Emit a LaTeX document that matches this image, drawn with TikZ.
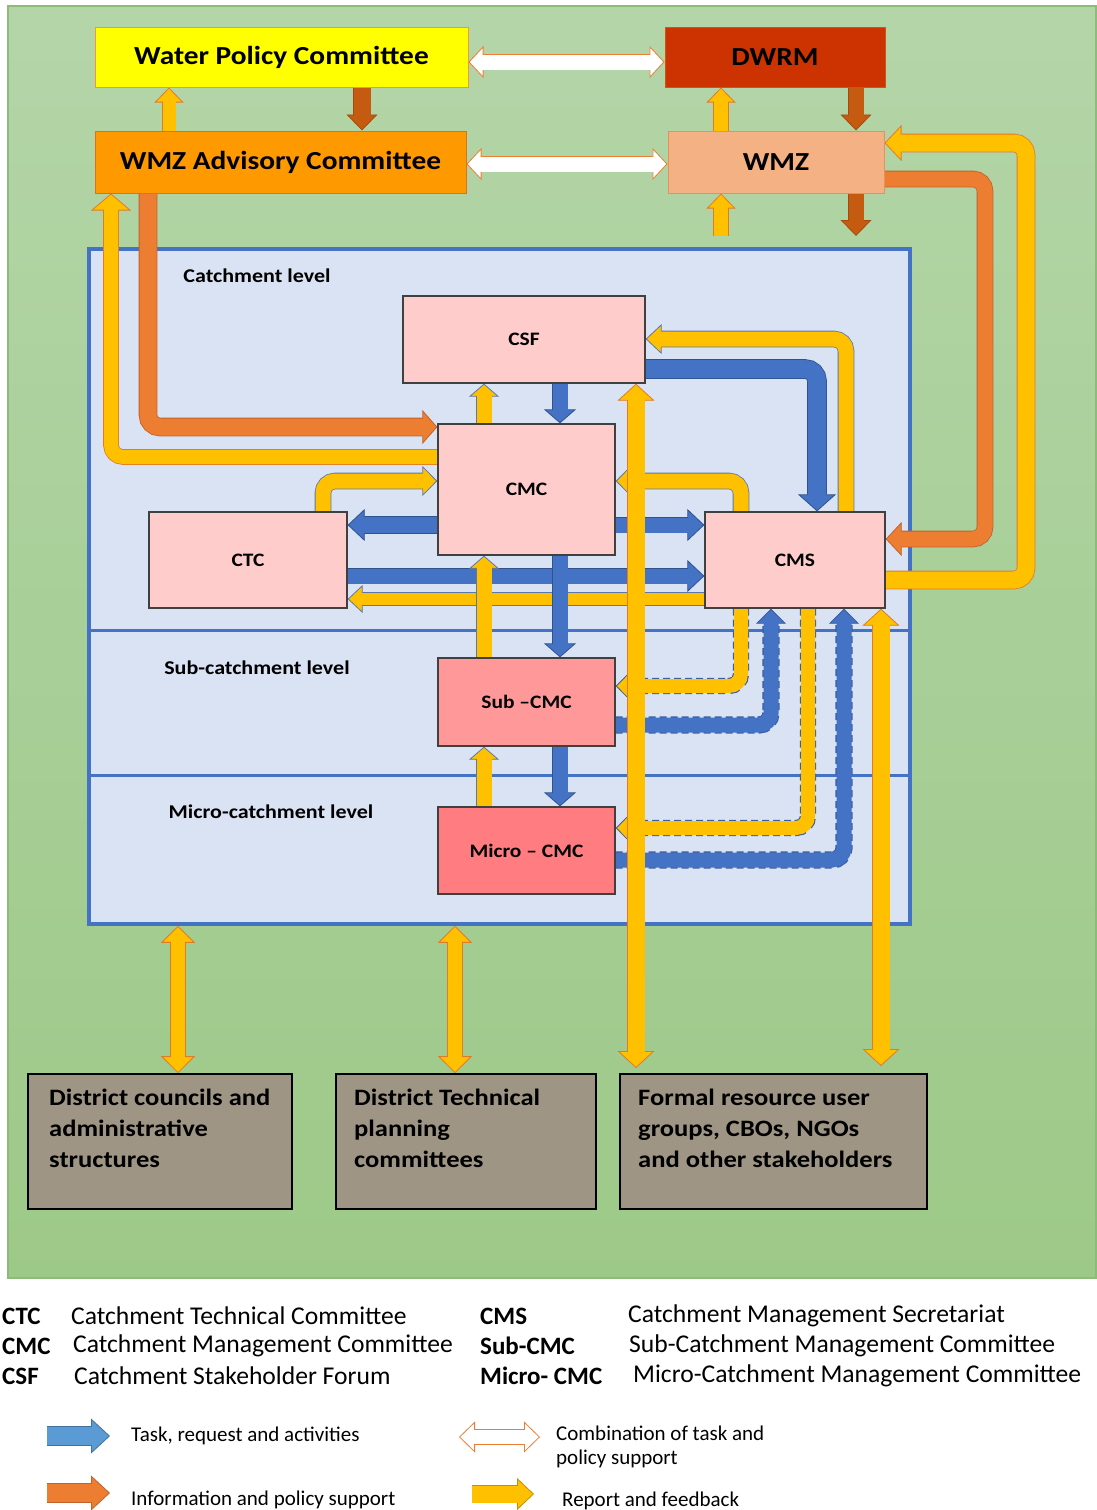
\documentclass[tikz,border=0pt]{standalone}
\usepackage{fontspec}
\setmainfont{Carlito}
\newfontfamily\boxfont{Carlito}[FakeStretch=1.13]
\usetikzlibrary{arrows.meta}
\pgfdeclarelayer{bg}\pgfdeclarelayer{arr}\pgfsetlayers{bg,arr,main}
\definecolor{bgtop}{HTML}{B4D5A8}
\definecolor{bgbot}{HTML}{9DC988}
\definecolor{bgline}{HTML}{8DBB7A}
\definecolor{regfill}{HTML}{DAE3F3}
\definecolor{regbd}{HTML}{4472C4}
\definecolor{ylw}{HTML}{FFC000}
\definecolor{ylwbd}{HTML}{E07B28}
\definecolor{ylwbb}{HTML}{5A78B0}
\definecolor{blu}{HTML}{4472C4}
\definecolor{blubd}{HTML}{2F528F}
\definecolor{dshbd}{HTML}{3B5E9E}
\definecolor{org}{HTML}{ED7D31}
\definecolor{orgbd}{HTML}{C0622A}
\definecolor{dorg}{HTML}{C55A11}
\definecolor{dorgbd}{HTML}{A8490C}
\definecolor{pinkc}{HTML}{FFCCCC}
\definecolor{subc}{HTML}{FF9999}
\definecolor{micc}{HTML}{FF7C80}
\definecolor{wpcc}{HTML}{FFFF00}
\definecolor{wpcbd}{HTML}{EE9A3A}
\definecolor{dwrmc}{HTML}{CC3300}
\definecolor{wacc}{HTML}{FF9900}
\definecolor{wacbd}{HTML}{E07020}
\definecolor{wmzc}{HTML}{F4B183}
\definecolor{wmzbd}{HTML}{E8905A}
\definecolor{grayb}{HTML}{9F9585}
\definecolor{boxbd}{HTML}{404040}
\definecolor{lgblue}{HTML}{5B9BD5}
\definecolor{lgbluebd}{HTML}{41719C}
\definecolor{lgylwbd}{HTML}{BF9000}
% block arrow: fill, border, shaft width, head width, head length, path
\newcommand\bkarrow[6]{%
  \pgfmathsetmacro\arrbw{#3+1.6}\pgfmathsetmacro\arrsh{#5-3}%
  \draw[#2, line width=\arrbw pt, rounded corners=12pt, -{Triangle[width=#4pt, length=#5pt, fill=#1, line width=0.8pt]}] #6;
  \draw[#1, line width=#3pt, rounded corners=12pt, shorten >=\arrsh pt] #6;}
\newcommand\bkdarrow[6]{%
  \pgfmathsetmacro\arrbw{#3+1.6}\pgfmathsetmacro\arrsh{#5-3}%
  \draw[#2, line width=\arrbw pt, {Triangle[width=#4pt, length=#5pt, fill=#1, line width=0.8pt]}-{Triangle[width=#4pt, length=#5pt, fill=#1, line width=0.8pt]}] #6;
  \draw[#1, line width=#3pt, shorten >=\arrsh pt, shorten <=\arrsh pt] #6;}
\newcommand\bkdash[6]{%
  \pgfmathsetmacro\arrbw{#3+2.2}\pgfmathsetmacro\arrsh{#5-3}%
  \draw[#2, line width=\arrbw pt, rounded corners=12pt, dash pattern=on 7pt off 4pt, -{Triangle[width=#4pt, length=#5pt, fill=#1, line width=0.8pt]}] #6;
  \draw[#1, line width=#3pt, rounded corners=12pt, shorten >=\arrsh pt] #6;}
\begin{document}
\begin{tikzpicture}[x=1pt,y=-1pt,
  box/.style={draw, line width=1pt, inner sep=0pt, align=center, font=\boxfont\bfseries\fontsize{26}{30}\selectfont},
  ibox/.style={draw=boxbd, line width=1.3pt, inner sep=0pt, fill=pinkc, font=\boxfont\bfseries\fontsize{19}{22}\selectfont},
  bbox/.style={draw=black, line width=1.6pt, fill=grayb, inner sep=0pt},
  btext/.style={anchor=north west, align=left, inner sep=0pt, font=\boxfont\bfseries\fontsize{23.5}{31}\selectfont},
  lvl/.style={inner sep=0pt, font=\boxfont\bfseries\fontsize{19.5}{22}\selectfont},
  abbr/.style={anchor=west, inner sep=0pt, font=\bfseries\fontsize{25}{28}\selectfont},
  lgt/.style={anchor=west, inner sep=0pt, font=\fontsize{25.6}{28}\selectfont},
  lgs/.style={anchor=west, inner sep=0pt, font=\fontsize{21}{24}\selectfont},
]
\useasboundingbox (0,0) rectangle (1096,1510);
\begin{pgfonlayer}{bg}
\fill[white] (0,0) rectangle (1096,1510);
\shade[top color=bgtop, bottom color=bgbot] (8,6) rectangle (1096,1278);
\draw[bgline, line width=1.2pt] (8,6) rectangle (1096,1278);
\node[draw=regbd, fill=regfill, line width=3.5pt, minimum width=821pt, minimum height=675pt, inner sep=0pt] (catch) at (499.5,586.5) {};
\draw[regbd, line width=3pt] (catch.west |- 0,630) -- (catch.east |- 0,630);
\draw[regbd, line width=3pt] (catch.west |- 0,775) -- (catch.east |- 0,775);
\node[lvl] (lc) at (257,276) {Catchment level};
\node[lvl] (ls) at (257,668) {Sub-catchment level};
\node[lvl] (lm) at (271,812) {Micro-catchment level};
\end{pgfonlayer}

% boxes
\node[box, fill=wpcc, draw=wpcbd, minimum width=373pt, minimum height=60pt] (wpc) at (281.5,57) {Water Policy Committee};
\node[box, fill=dwrmc, draw=dorg, minimum width=220pt, minimum height=60pt] (dwrm) at (775,57) {DWRM};
\node[box, fill=wacc, draw=wacbd, minimum width=371pt, minimum height=62pt] (wac) at (280.5,162) {WMZ Advisory Committee};
\node[box, fill=wmzc, draw=wmzbd, minimum width=216pt, minimum height=62pt] (wmz) at (776,162) {WMZ};

\node[ibox, minimum width=242pt, minimum height=87pt] (csf) at (524,339.5) {CSF};
\node[ibox, minimum width=177pt, minimum height=131pt] (cmc) at (526.5,489.5) {CMC};
\node[ibox, minimum width=198pt, minimum height=96pt] (ctc) at (248,560) {CTC};
\node[ibox, minimum width=180pt, minimum height=96pt] (cms) at (795,560) {CMS};
\node[ibox, fill=subc, minimum width=177pt, minimum height=88pt] (sub) at (526.5,702) {Sub –CMC};
\node[ibox, fill=micc, minimum width=177pt, minimum height=87pt] (micro) at (526.5,850.5) {Micro – CMC};

\node[bbox, minimum width=264pt, minimum height=135pt] (dc) at (160,1141.5) {};
\node[bbox, minimum width=260pt, minimum height=135pt] (dt) at (466,1141.5) {};
\node[bbox, minimum width=307pt, minimum height=135pt] (fr) at (773.5,1141.5) {};
\node[btext] (dctx) at (49,1089) {District councils and\\administrative\\structures};
\node[btext] (dttx) at (354,1089) {District Technical\\planning\\committees};
\node[btext] (frtx) at (638,1089) {Formal resource user\\groups, CBOs, NGOs\\and other stakeholders};

\coordinate (frA) at (636,1068);
\coordinate (frB) at (881,1066);
\coordinate (wmzin) at (721,236);
\coordinate (wmzout) at (856,236);

\begin{pgfonlayer}{arr}
% top level
\bkdarrow{white}{org}{15}{32}{15}{(wpc.east |- 0,62) -- (dwrm.west |- 0,62)}
\bkdarrow{white}{org}{15}{32}{15}{(wac.east |- 0,164) -- (wmz.west |- 0,164)}
\bkarrow{ylw}{ylwbd}{13}{29}{15}{(wac.north -| 169,0) -- (wpc.south -| 169,0)}
\bkarrow{dorg}{dorgbd}{17}{31}{16}{(wpc.south -| 362,0) -- (wac.north -| 362,0)}
\bkarrow{ylw}{ylwbd}{14}{29}{15}{(wmz.north -| 721,0) -- (dwrm.south -| 721,0)}
\bkarrow{dorg}{dorgbd}{15}{31}{16}{(dwrm.south -| 856,0) -- (wmz.north -| 856,0)}
\bkarrow{ylw}{ylwbd}{14}{29}{15}{(wmzin) -- (wmz.south -| 721,0)}
\bkarrow{dorg}{dorgbd}{15}{31}{16}{(wmz.south -| 856,0) -- (wmzout)}
% catchment horizontals
\bkarrow{org}{orgbd}{17}{34}{15}{(wac.south -| 148,0) -- (148,427) -- (cmc.west |- 0,427)}
\bkarrow{ylw}{ylwbd}{14}{40}{17}{(cmc.west |- 0,457) -- (111,457) -- (wac.south -| 111,0)}
\bkarrow{ylw}{ylwbb}{15}{30}{15}{(ctc.north -| 323,0) -- (323,481) -- (cmc.west |- 0,481)}
\bkarrow{blu}{blubd}{16}{32}{17}{(cmc.west |- 0,525) -- (ctc.east |- 0,525)}
\bkarrow{blu}{blubd}{15}{32}{17}{(ctc.east |- 0,576) -- (cms.west |- 0,576)}
\bkarrow{ylw}{ylwbb}{12}{28}{15}{(cms.west |- 0,599) -- (ctc.east |- 0,599)}
\bkarrow{blu}{blubd}{15}{32}{17}{(cmc.east |- 0,525) -- (cms.west |- 0,525)}
\bkarrow{ylw}{ylwbb}{15}{30}{15}{(cms.north -| 741,0) -- (741,481) -- (cmc.east |- 0,481)}
\bkarrow{blu}{blubd}{18}{38}{17}{(csf.east |- 0,369) -- (817,369) -- (cms.north -| 817,0)}
\bkarrow{ylw}{ylwbb}{15}{30}{16}{(cms.north -| 846,0) -- (846,339) -- (csf.east |- 0,339)}
% dashed
\bkdash{ylw}{dshbd}{14}{28}{14}{(cms.south -| 741,0) -- (741,686) -- (sub.east |- 0,686)}
\bkdash{blu}{dshbd}{15}{30}{15}{(sub.east |- 0,725) -- (771,725) -- (cms.south -| 771,0)}
\bkdash{ylw}{dshbd}{14}{28}{14}{(cms.south -| 808,0) -- (808,828) -- (micro.east |- 0,828)}
\bkdash{blu}{dshbd}{15}{30}{15}{(micro.east |- 0,860) -- (844,860) -- (cms.south -| 844,0)}
% verticals
\bkarrow{ylw}{ylwbb}{15}{30}{13}{(cmc.north -| 484,0) -- (csf.south -| 484,0)}
\bkarrow{blu}{blubd}{15}{32}{14}{(csf.south -| 560,0) -- (cmc.north -| 560,0)}
\bkarrow{ylw}{ylwbb}{15}{30}{13}{(sub.north -| 484,0) -- (cmc.south -| 484,0)}
\bkarrow{blu}{blubd}{15}{32}{14}{(cmc.south -| 560,0) -- (sub.north -| 560,0)}
\bkarrow{ylw}{ylwbb}{15}{30}{13}{(micro.north -| 484,0) -- (sub.south -| 484,0)}
\bkarrow{blu}{blubd}{15}{32}{14}{(sub.south -| 560,0) -- (micro.north -| 560,0)}
% right loops
\bkarrow{org}{orgbd}{15}{34}{16}{(wmz.east |- 0,179) -- (985,179) -- (985,539) -- (cms.east |- 0,539)}
\bkarrow{ylw}{ylwbd}{17}{36}{17}{(cms.east |- 0,580) -- (1026,580) -- (1026,143) -- (wmz.east |- 0,143)}
% long verticals
\bkdarrow{ylw}{ylwbd}{17}{37}{17}{(frA) -- (csf.south -| 636,0)}
\bkdarrow{ylw}{ylwbd}{17}{37}{17}{(frB) -- (cms.south -| 881,0)}
\bkdarrow{ylw}{ylwbd}{14}{34}{17}{(catch.south -| 178,0) -- (dc.north -| 178,0)}
\bkdarrow{ylw}{ylwbd}{14}{34}{17}{(catch.south -| 455,0) -- (dt.north -| 455,0)}
% legend arrows
\coordinate (l1a) at (47,1436); \coordinate (l1b) at (110,1436);
\coordinate (l2a) at (459,1437); \coordinate (l2b) at (540,1437);
\coordinate (l3a) at (47,1493); \coordinate (l3b) at (110,1493);
\coordinate (l4a) at (472,1494); \coordinate (l4b) at (534,1494);
\bkarrow{lgblue}{lgbluebd}{18}{35}{19}{(l1a) -- (l1b)}
\bkdarrow{white}{org}{14}{31}{16}{(l2a) -- (l2b)}
\bkarrow{org}{orgbd}{18}{35}{19}{(l3a) -- (l3b)}
\bkarrow{ylw}{lgylwbd}{17}{32}{17}{(l4a) -- (l4b)}
\end{pgfonlayer}

% legend text
\node[abbr] (a1) at (2,1316) {CTC};
\node[lgt] (t1) at (71,1316) {Catchment Technical Committee};
\node[abbr] (a2) at (2,1346) {CMC};
\node[lgt] (t2) at (73,1346) {Catchment Management Committee};
\node[abbr] (a3) at (2,1376) {CSF};
\node[lgt] (t3) at (74,1376) {Catchment Stakeholder Forum};
\node[abbr] (a4) at (480,1316) {CMS};
\node[lgt] (t4) at (628,1316) {Catchment Management Secretariat};
\node[abbr] (a5) at (480,1346) {Sub-CMC};
\node[lgt] (t5) at (629,1346) {Sub-Catchment Management Committee};
\node[abbr] (a6) at (480,1376) {Micro- CMC};
\node[lgt] (t6) at (633,1376) {Micro-Catchment Management Committee};
\node[lgs] (g1) at (131,1436) {Task, request and activities};
\node[lgs] (g2) at (556,1433) {Combination of task and};
\node[lgs] (g2b) at (556,1459) {policy support};
\node[lgs] (g3) at (131,1500) {Information and policy support};
\node[lgs] (g4) at (562,1501) {Report and feedback};
\end{tikzpicture}
\end{document}
